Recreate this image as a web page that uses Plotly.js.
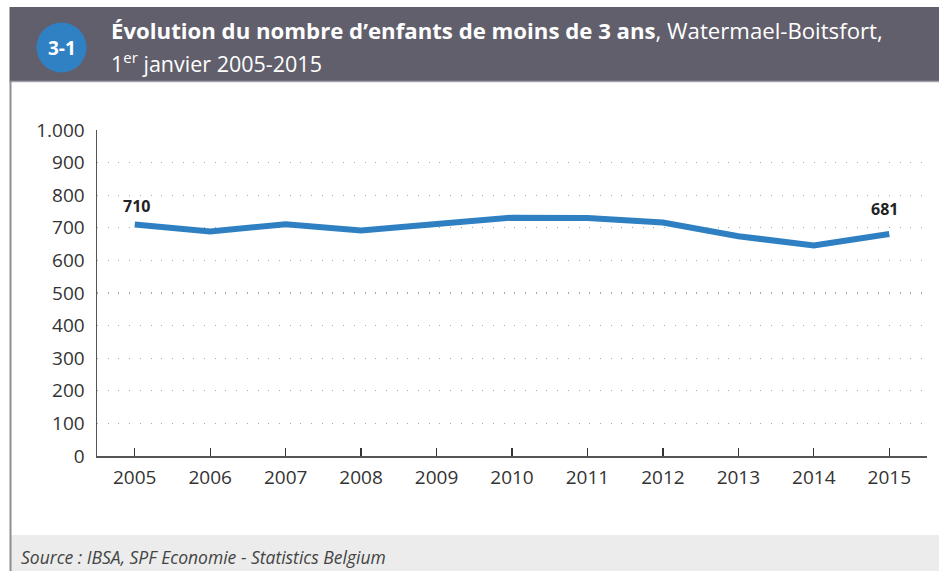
<!DOCTYPE html>
<html>
<head>
<meta charset="utf-8">
<script src="https://cdn.plot.ly/plotly-3.0.1.min.js"></script>
<style>
  html, body { margin: 0; padding: 0; background: #ffffff; }
  #chart { width: 939px; height: 571px; }
</style>
</head>
<body>
<div id="chart"></div>
<script>
// ---- Data ----
const years = [2005, 2006, 2007, 2008, 2009, 2010, 2011, 2012, 2013, 2014, 2015];
const children = [710, 689, 711, 692, 712, 731, 730, 716, 674, 646, 681];
const yTicks = [0, 100, 200, 300, 400, 500, 600, 700, 800, 900, 1000];
const labelledIdx = [0, 10];

const titleBold = "Évolution du nombre d’enfants de moins de 3 ans";
const titleRest = ", Watermael-Boitsfort,";
const titleLine2 = "1<sup>er</sup> janvier 2005-2015";
const badge = "3-1";
const sourceText = "Source : IBSA, SPF Economie - Statistics Belgium";

// ---- Geometry helpers (pixel -> paper) ----
const W = 939, H = 571;
const M = { l: 97, r: 12, t: 130, b: 115 };
const PW = W - M.l - M.r, PH = H - M.t - M.b;
const px = x => (x - M.l) / PW;
const py = y => (H - M.b - y) / PH;

const FONT = "Open Sans, Noto Sans, sans-serif";
const blue = "#2f80c2";

const trace = {
  x: years,
  y: children,
  type: "scatter",
  mode: "lines",
  line: { color: blue, width: 6, shape: "linear" },
  hoverinfo: "x+y"
};

const labelShift = [{ xs: 2, ys: 6 }, { xs: -5, ys: 12 }];
const dataAnnotations = labelledIdx.map((i, k) => ({
  x: years[i], y: children[i], xref: "x", yref: "y",
  text: String(children[i]),
  showarrow: false, xanchor: "center", yanchor: "bottom",
  xshift: labelShift[k].xs, yshift: labelShift[k].ys,
  font: { family: FONT, size: 16, color: "#222222", weight: 700 }
}));

const layout = {
  width: W, height: H,
  margin: M,
  paper_bgcolor: "#ffffff",
  plot_bgcolor: "#ffffff",
  separators: ",.",
  showlegend: false,
  font: { family: FONT, color: "#333333", size: 19 },
  xaxis: {
    range: [2004.5, 2015.5],
    tickvals: years,
    ticktext: years.map(String),
    showgrid: false,
    zeroline: false,
    showline: true, linecolor: "#555555", linewidth: 1.5,
    ticks: "inside", ticklen: 8, tickwidth: 1.2, tickcolor: "#333333",
    tickfont: { family: FONT, size: 19, color: "#333333" },
    ticklabelstandoff: 4,
    fixedrange: true
  },
  yaxis: {
    range: [0, 1000],
    tickvals: yTicks,
    tickformat: ",d",
    showgrid: true, gridcolor: "#a8a8a8", gridwidth: 1.2, griddash: "1px,9.7px",
    zeroline: false,
    showline: true, linecolor: "#555555", linewidth: 1.5,
    ticks: "",
    tickfont: { family: FONT, size: 19, color: "#333333" },
    ticklabelstandoff: 7,
    fixedrange: true
  },
  shapes: [
    { type: "rect", xref: "paper", yref: "paper", layer: "below",
      x0: px(9.5), x1: px(945), y0: py(81), y1: py(7),
      fillcolor: "#625f6c", line: { width: 0 } },
    { type: "line", xref: "paper", yref: "paper",
      x0: px(9.5), x1: px(945), y0: py(81.5), y1: py(81.5),
      line: { color: "#a3a1aa", width: 1.5 } },
    { type: "rect", xref: "paper", yref: "paper", layer: "below",
      x0: px(11), x1: px(945), y0: py(535), y1: py(577),
      fillcolor: "#ebeceb", line: { width: 0 } },
    { type: "line", xref: "paper", yref: "paper",
      x0: px(10.5), x1: px(10.5), y0: py(81), y1: py(577),
      line: { color: "#8e8c95", width: 2 } },
    { type: "circle", xref: "paper", yref: "paper",
      x0: px(36.5), x1: px(86.5), y0: py(72.5), y1: py(22.5),
      fillcolor: "#2f81c4", line: { width: 0 } }
  ],
  annotations: dataAnnotations.concat([
    { xref: "paper", yref: "paper", x: px(61.5), y: py(47.5),
      xanchor: "center", yanchor: "middle", showarrow: false,
      text: "<b>" + badge + "</b>",
      font: { family: FONT, size: 19, color: "#ffffff" } },
    { xref: "paper", yref: "paper", x: px(109), y: py(31),
      xanchor: "left", yanchor: "middle", showarrow: false,
      text: "<b>" + titleBold + "</b>" + titleRest,
      font: { family: FONT, size: 22.2, color: "#ffffff" } },
    { xref: "paper", yref: "paper", x: px(109), y: py(62),
      xanchor: "left", yanchor: "middle", showarrow: false,
      text: titleLine2,
      font: { family: FONT, size: 21.5, color: "#ffffff" } },
    { xref: "paper", yref: "paper", x: px(19), y: py(557),
      xanchor: "left", yanchor: "middle", showarrow: false,
      text: "<i>" + sourceText + "</i>",
      font: { family: FONT, size: 17.5, color: "#444444" } }
  ])
};

Plotly.newPlot("chart", [trace], layout, { displayModeBar: false, staticPlot: true });
</script>
</body>
</html>
